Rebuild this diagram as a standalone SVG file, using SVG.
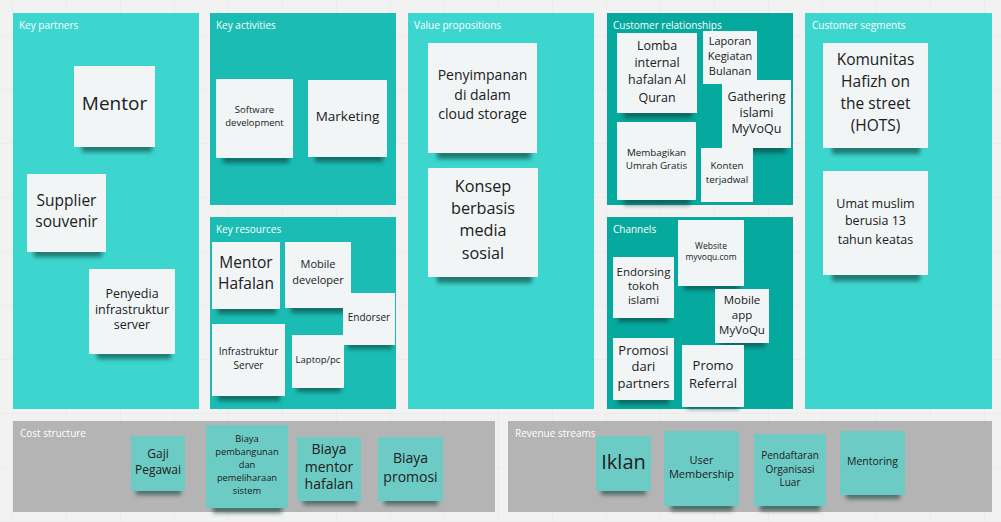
<svg xmlns="http://www.w3.org/2000/svg" width="1001" height="522" viewBox="0 0 1001 522">
<defs>
<pattern id="grid" x="12" y="35" width="54" height="54" patternUnits="userSpaceOnUse">
<path d="M0 0H54M0 0V54" fill="none" stroke="#e6e6e6" stroke-width="1"/>
</pattern>
<filter id="blur" x="-20%" y="-60%" width="140%" height="220%"><feGaussianBlur stdDeviation="2.2"/></filter>
</defs>
<style>
.lbl{font-family:"Open Sans","Liberation Sans",sans-serif;font-size:10px;fill:#ffffff}
.n{fill:#f1f5f6}
.tn{fill:#6dcbc5}
.sh{fill:#083c39;opacity:.6;filter:url(#blur)}
.t{font-family:"Open Sans","Liberation Sans",sans-serif;fill:#202020;text-anchor:middle}
.pl{fill:#3dd6cf}
.pm{fill:#1abcb3}
.pd{fill:#06a99e}
.pg{fill:#b4b4b4}
</style>
<rect width="1001" height="522" fill="#f2f2f2"/>
<rect width="1001" height="522" fill="url(#grid)"/>

<g id="panels">
<g id="key-partners"><rect class="pl" x="13" y="13" width="186" height="396"/><text class="lbl" x="19" y="29">Key partners</text></g>
<g id="key-activities"><rect class="pm" x="210" y="13" width="186" height="192"/><text class="lbl" x="216" y="29">Key activities</text></g>
<g id="key-resources"><rect class="pm" x="210" y="217" width="186" height="192"/><text class="lbl" x="216" y="233">Key resources</text></g>
<g id="value-propositions"><rect class="pl" x="408" y="13" width="186" height="396"/><text class="lbl" x="414" y="29">Value propositions</text></g>
<g id="customer-relationships"><rect class="pd" x="607" y="13" width="186" height="192"/><text class="lbl" x="613" y="29">Customer relationships</text></g>
<g id="channels"><rect class="pd" x="607" y="217" width="186" height="192"/><text class="lbl" x="613" y="233">Channels</text></g>
<g id="customer-segments"><rect class="pl" x="805" y="13" width="187" height="396"/><text class="lbl" x="812" y="29">Customer segments</text></g>
<g id="cost-structure"><rect class="pg" x="13" y="421" width="482" height="91"/><text class="lbl" x="20" y="437">Cost structure</text></g>
<g id="revenue-streams"><rect class="pg" x="508" y="421" width="484" height="91"/><text class="lbl" x="515" y="437">Revenue streams</text></g>
</g>

<g id="kp-mentor"><rect class="sh" x="82" y="143" width="70" height="9"/><rect class="n" x="74" y="66" width="81" height="81"/><text class="t" x="114.5" y="110" font-size="19">Mentor</text></g>
<g id="kp-supplier"><rect class="sh" x="34" y="248" width="68" height="9"/><rect class="n" x="27" y="174" width="79" height="78"/><text class="t" font-size="15.5"><tspan x="66.5" y="206">Supplier</tspan><tspan x="66.5" y="227">souvenir</tspan></text></g>
<g id="kp-penyedia"><rect class="sh" x="97" y="350" width="74" height="9"/><rect class="n" x="89" y="269" width="86" height="85"/><text class="t" font-size="12.5"><tspan x="132" y="298">Penyedia</tspan><tspan x="132" y="313.5">infrastruktur</tspan><tspan x="132" y="329">server</tspan></text></g>

<g id="ka-software"><rect class="sh" x="223" y="154" width="66" height="9"/><rect class="n" x="216" y="79" width="77" height="79"/><text class="t" font-size="9.5"><tspan x="254.5" y="112.5">Software</tspan><tspan x="254.5" y="126">development</tspan></text></g>
<g id="ka-marketing"><rect class="sh" x="315" y="153" width="68" height="9"/><rect class="n" x="308" y="80" width="79" height="77"/><text class="t" x="347.5" y="120.5" font-size="13.5">Marketing</text></g>

<g id="kr-mentor-hafalan"><rect class="sh" x="218" y="305" width="58" height="9"/><rect class="n" x="212" y="242" width="68" height="67"/><text class="t" font-size="15.5"><tspan x="246" y="268">Mentor</tspan><tspan x="246" y="289">Hafalan</tspan></text></g>
<g id="kr-mobile-dev"><rect class="sh" x="291" y="304" width="56" height="9"/><rect class="n" x="285" y="242" width="66" height="66"/><text class="t" font-size="11"><tspan x="318" y="268">Mobile</tspan><tspan x="318" y="284">developer</tspan></text></g>
<g id="kr-endorser"><rect class="sh" x="348" y="341" width="44" height="8"/><rect class="n" x="343" y="293" width="52" height="52"/><text class="t" x="369" y="320.5" font-size="10">Endorser</text></g>
<g id="kr-infra"><rect class="sh" x="218" y="392" width="62" height="9"/><rect class="n" x="212" y="324" width="73" height="72"/><text class="t" font-size="10"><tspan x="248.5" y="355">Infrastruktur</tspan><tspan x="248.5" y="368.5">Server</tspan></text></g>
<g id="kr-laptop"><rect class="sh" x="297" y="384" width="44" height="8"/><rect class="n" x="292" y="335" width="52" height="53"/><text class="t" x="318" y="362.5" font-size="9.5">Laptop/pc</text></g>

<g id="vp-penyimpanan"><rect class="sh" x="437" y="149" width="94" height="10"/><rect class="n" x="428" y="43" width="109" height="110"/><text class="t" font-size="14"><tspan x="482.5" y="80">Penyimpanan</tspan><tspan x="482.5" y="100">di dalam</tspan><tspan x="482.5" y="119">cloud storage</tspan></text></g>
<g id="vp-konsep"><rect class="sh" x="437" y="273" width="95" height="10"/><rect class="n" x="428" y="168" width="110" height="109"/><text class="t" font-size="16.2"><tspan x="483" y="192">Konsep</tspan><tspan x="483" y="213.5">berbasis</tspan><tspan x="483" y="236">media</tspan><tspan x="483" y="259">sosial</tspan></text></g>

<g id="cr-lomba"><rect class="sh" x="624" y="109" width="68" height="9"/><rect class="n" x="617" y="33" width="80" height="80"/><text class="t" font-size="12.5"><tspan x="657" y="50">Lomba</tspan><tspan x="657" y="67">internal</tspan><tspan x="657" y="84">hafalan Al</tspan><tspan x="657" y="101.5">Quran</tspan></text></g>
<g id="cr-laporan"><rect class="n" x="703" y="31" width="54" height="53"/><text class="t" font-size="11"><tspan x="730" y="45">Laporan</tspan><tspan x="730" y="60">Kegiatan</tspan><tspan x="730" y="75">Bulanan</tspan></text></g>
<g id="cr-gathering"><rect class="sh" x="728" y="144" width="58" height="9"/><rect class="n" x="722" y="80" width="69" height="68"/><text class="t" font-size="12.5"><tspan x="756.5" y="100.5">Gathering</tspan><tspan x="756.5" y="116.5">islami</tspan><tspan x="756.5" y="132.5">MyVoQu</tspan></text></g>
<g id="cr-membagikan"><rect class="sh" x="624" y="196" width="66" height="9"/><rect class="n" x="617" y="122" width="79" height="78"/><text class="t" font-size="9.8"><tspan x="656.5" y="155.5">Membagikan</tspan><tspan x="656.5" y="169">Umrah Gratis</tspan></text></g>
<g id="cr-konten"><rect class="n" x="701" y="148" width="52" height="54"/><text class="t" font-size="9.8"><tspan x="727" y="169">Konten</tspan><tspan x="727" y="182.5">terjadwal</tspan></text></g>

<g id="ch-website"><rect class="sh" x="684" y="282" width="55" height="8"/><rect class="n" x="678" y="220" width="66" height="66"/><text class="t" font-size="8.5"><tspan x="711" y="249">Website</tspan><tspan x="711" y="260">myvoqu.com</tspan></text></g>
<g id="ch-endorsing"><rect class="sh" x="618" y="314" width="51" height="8"/><rect class="n" x="613" y="257" width="61" height="61"/><text class="t" font-size="11.5"><tspan x="643.5" y="275.5">Endorsing</tspan><tspan x="643.5" y="290">tokoh</tspan><tspan x="643.5" y="304">islami</tspan></text></g>
<g id="ch-mobile-app"><rect class="sh" x="720" y="339" width="45" height="8"/><rect class="n" x="715" y="289" width="54" height="54"/><text class="t" font-size="11.5"><tspan x="742" y="303.5">Mobile</tspan><tspan x="742" y="319">app</tspan><tspan x="742" y="334">MyVoQu</tspan></text></g>
<g id="ch-promosi"><rect class="sh" x="618" y="396" width="51" height="8"/><rect class="n" x="613" y="338" width="61" height="62"/><text class="t" font-size="13"><tspan x="643.5" y="354.5">Promosi</tspan><tspan x="643.5" y="371">dari</tspan><tspan x="643.5" y="387.5">partners</tspan></text></g>
<g id="ch-referral"><rect class="sh" x="687" y="402" width="52" height="7"/><rect class="n" x="682" y="345" width="62" height="62"/><text class="t" font-size="13"><tspan x="713" y="369.5">Promo</tspan><tspan x="713" y="387.5">Referral</tspan></text></g>

<g id="cs-komunitas"><rect class="sh" x="832" y="144" width="88" height="10"/><rect class="n" x="823" y="43" width="105" height="105"/><text class="t" font-size="15.5"><tspan x="875.5" y="65">Komunitas</tspan><tspan x="875.5" y="87">Hafizh on</tspan><tspan x="875.5" y="109">the street</tspan><tspan x="875.5" y="130.5">(HOTS)</tspan></text></g>
<g id="cs-umat"><rect class="sh" x="832" y="271" width="88" height="10"/><rect class="n" x="823" y="171" width="105" height="104"/><text class="t" font-size="12.5"><tspan x="875.5" y="207.5">Umat muslim</tspan><tspan x="875.5" y="225">berusia 13</tspan><tspan x="875.5" y="244">tahun keatas</tspan></text></g>

<g id="cost-gaji"><rect class="sh" x="136" y="487" width="45" height="8"/><rect class="tn" x="131" y="436" width="54" height="55"/><text class="t" font-size="12"><tspan x="158" y="457.5">Gaji</tspan><tspan x="158" y="474">Pegawai</tspan></text></g>
<g id="cost-pembangunan"><rect class="sh" x="213" y="504" width="69" height="9"/><rect class="tn" x="206" y="425" width="82" height="83"/><text class="t" font-size="9.3"><tspan x="247" y="441.5">Biaya</tspan><tspan x="247" y="454.5">pembangunan</tspan><tspan x="247" y="467.5">dan</tspan><tspan x="247" y="481">pemeliharaan</tspan><tspan x="247" y="494">sistem</tspan></text></g>
<g id="cost-mentor"><rect class="sh" x="303" y="497" width="54" height="8"/><rect class="tn" x="297" y="437" width="64" height="64"/><text class="t" font-size="14"><tspan x="329" y="454">Biaya</tspan><tspan x="329" y="471.5">mentor</tspan><tspan x="329" y="489">hafalan</tspan></text></g>
<g id="cost-promosi"><rect class="sh" x="384" y="497" width="54" height="8"/><rect class="tn" x="378" y="437" width="65" height="64"/><text class="t" font-size="14"><tspan x="410.5" y="462.5">Biaya</tspan><tspan x="410.5" y="481.5">promosi</tspan></text></g>

<g id="rev-iklan"><rect class="sh" x="601" y="487" width="45" height="8"/><rect class="tn" x="596" y="436" width="55" height="55"/><text class="t" x="623.5" y="468.5" font-size="20">Iklan</text></g>
<g id="rev-membership"><rect class="sh" x="671" y="502" width="62" height="9"/><rect class="tn" x="664" y="431" width="75" height="75"/><text class="t" font-size="11"><tspan x="701.5" y="463.5">User</tspan><tspan x="701.5" y="477.5">Membership</tspan></text></g>
<g id="rev-pendaftaran"><rect class="sh" x="760" y="502" width="60" height="9"/><rect class="tn" x="754" y="434" width="72" height="72"/><text class="t" font-size="10"><tspan x="790" y="458.5">Pendaftaran</tspan><tspan x="790" y="472.5">Organisasi</tspan><tspan x="790" y="486">Luar</tspan></text></g>
<g id="rev-mentoring"><rect class="sh" x="846" y="491" width="54" height="8"/><rect class="tn" x="840" y="431" width="65" height="64"/><text class="t" x="872.5" y="465" font-size="10.5">Mentoring</text></g>
</svg>
